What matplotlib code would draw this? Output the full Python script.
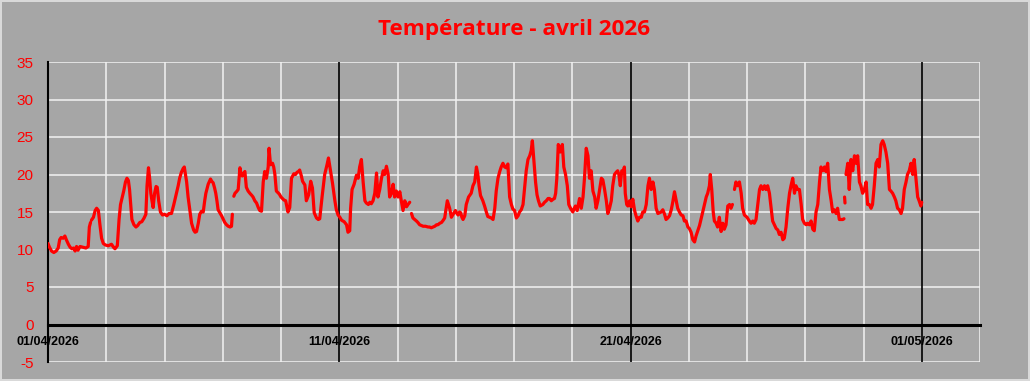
import numpy as np
import matplotlib
matplotlib.use("Agg")
import matplotlib.pyplot as plt
from matplotlib.ticker import MultipleLocator, FixedLocator

title = "Température - avril 2026"
tick_days = [0, 10, 20, 30]
tick_labels = ["01/04/2026", "11/04/2026", "21/04/2026", "01/05/2026"]
y_ticks = list(range(-5, 40, 5))
nan = float("nan")

# (days since 01/04/2026 00:00, temperature °C); nan = missing data
readings = [
    (0.00, 10.8), (0.05, 10.3), (0.12, 9.8), (0.20, 9.6), (0.28, 9.8), (0.35, 10.2),
    (0.40, 11.3), (0.45, 11.6), (0.52, 11.5), (0.58, 11.8), (0.63, 11.3), (0.70, 10.7),
    (0.76, 10.3), (0.82, 10.1), (0.88, 10.2), (0.93, 9.8), (0.98, 10.4), (1.03, 9.9),
    (1.10, 10.4), (1.20, 10.3), (1.30, 10.2), (1.38, 10.4), (1.42, 13.0), (1.46, 13.6),
    (1.47, nan), (1.49, 13.9), (1.56, 14.3), (1.62, 15.2), (1.67, 15.5), (1.73, 15.2),
    (1.78, 13.4), (1.84, 11.5), (1.90, 10.8), (1.97, 10.6), (2.07, 10.5), (2.18, 10.7),
    (2.25, 10.3), (2.30, 10.1), (2.38, 10.5), (2.44, 14.0), (2.49, 16.0), (2.55, 17.0),
    (2.60, 17.8), (2.66, 19.0), (2.71, 19.5), (2.76, 19.2), (2.80, 18.0), (2.84, 16.0),
    (2.88, 14.0), (2.95, 13.3), (3.02, 13.0), (3.08, 13.2), (3.15, 13.6), (3.22, 13.7),
    (3.30, 14.2), (3.36, 14.7), (3.40, 18.5), (3.45, 20.9), (3.49, 19.5), (3.53, 17.5),
    (3.57, 16.5), (3.61, 15.6), (3.66, 17.5), (3.71, 18.4), (3.75, 18.3), (3.80, 16.5),
    (3.86, 15.0), (3.93, 14.6), (4.00, 14.7), (4.08, 14.5), (4.16, 14.8), (4.24, 14.8),
    (4.32, 16.0), (4.41, 17.5), (4.47, 18.5), (4.52, 19.5), (4.58, 20.3), (4.64, 20.8),
    (4.68, 21.0), (4.72, 20.0), (4.76, 19.0), (4.81, 17.0), (4.86, 15.5), (4.93, 13.5),
    (5.00, 12.6), (5.05, 12.3), (5.10, 12.4), (5.16, 13.5), (5.21, 14.7), (5.27, 15.1),
    (5.33, 15.0), (5.38, 16.5), (5.42, 17.5), (5.50, 18.7), (5.58, 19.4), (5.62, 19.1),
    (5.67, 18.9), (5.72, 18.2), (5.76, 17.5), (5.80, 16.5), (5.84, 15.3), (5.90, 14.9),
    (5.96, 14.5), (6.02, 14.0), (6.07, 13.6), (6.13, 13.3), (6.19, 13.1), (6.25, 13.0),
    (6.30, 13.1), (6.33, 14.7), (6.355, nan), (6.38, 17.1), (6.42, 17.5), (6.47, 17.7),
    (6.53, 18.0), (6.56, 19.5), (6.59, 20.9), (6.63, 20.0), (6.67, 19.8), (6.72, 20.2),
    (6.76, 20.4), (6.81, 18.3), (6.87, 17.8), (6.93, 17.5), (7.00, 17.2), (7.04, 17.0),
    (7.10, 16.5), (7.16, 16.2), (7.22, 15.6), (7.27, 15.2), (7.33, 15.1), (7.39, 19.0),
    (7.44, 20.4), (7.50, 19.5), (7.56, 21.0), (7.59, 23.5), (7.64, 21.3), (7.71, 21.5),
    (7.75, 21.0), (7.79, 20.0), (7.84, 17.8), (7.89, 17.6), (7.94, 17.4), (8.00, 17.0),
    (8.05, 16.8), (8.10, 16.6), (8.16, 16.5), (8.24, 15.0), (8.30, 15.6), (8.36, 19.5),
    (8.44, 20.1), (8.50, 20.0), (8.55, 20.3), (8.60, 20.4), (8.64, 20.6), (8.70, 19.8),
    (8.74, 19.1), (8.82, 18.6), (8.87, 16.5), (8.95, 17.3), (9.02, 19.1), (9.08, 18.2),
    (9.14, 14.9), (9.22, 14.2), (9.28, 14.0), (9.33, 14.1), (9.41, 17.0), (9.50, 20.0),
    (9.58, 21.3), (9.63, 22.2), (9.70, 20.5), (9.77, 18.8), (9.85, 16.5), (9.90, 15.3),
    (9.96, 14.6), (10.02, 14.3), (10.08, 13.9), (10.17, 13.7), (10.25, 13.3), (10.30, 12.3),
    (10.36, 12.5), (10.39, 15.5), (10.44, 18.0), (10.51, 18.7), (10.59, 19.9), (10.65, 19.5),
    (10.70, 21.0), (10.76, 22.0), (10.82, 19.0), (10.88, 16.5), (10.93, 16.2), (11.00, 16.0),
    (11.05, 16.3), (11.10, 16.1), (11.16, 16.5), (11.22, 17.5), (11.28, 20.2), (11.33, 17.0),
    (11.39, 18.0), (11.45, 19.5), (11.51, 20.5), (11.56, 20.0), (11.62, 21.1), (11.68, 20.0),
    (11.73, 17.0), (11.79, 17.5), (11.85, 18.7), (11.90, 17.0), (11.96, 17.8), (12.02, 17.0),
    (12.08, 17.7), (12.13, 16.5), (12.19, 15.2), (12.25, 16.5), (12.31, 15.7), (12.36, 16.0),
    (12.42, 16.3), (12.45, nan), (12.48, 14.8), (12.53, 14.2), (12.59, 14.0), (12.65, 13.8),
    (12.70, 13.6), (12.76, 13.3), (12.82, 13.2), (12.88, 13.1), (12.96, 13.1), (13.05, 13.0),
    (13.10, 13.0), (13.16, 12.9), (13.22, 13.0), (13.28, 13.1), (13.34, 13.3), (13.39, 13.3),
    (13.45, 13.5), (13.51, 13.6), (13.57, 13.9), (13.62, 14.2), (13.67, 15.5), (13.71, 16.5),
    (13.75, 16.0), (13.79, 15.5), (13.85, 14.3), (13.91, 14.7), (13.99, 15.2), (14.04, 14.8),
    (14.08, 14.6), (14.13, 15.0), (14.17, 14.9), (14.21, 14.3), (14.25, 14.0), (14.31, 14.5),
    (14.36, 16.0), (14.44, 17.0), (14.53, 17.5), (14.59, 18.5), (14.65, 19.0), (14.68, 20.0),
    (14.71, 21.0), (14.76, 20.0), (14.80, 18.5), (14.85, 17.2), (14.93, 16.5), (14.99, 15.8),
    (15.05, 15.0), (15.10, 14.4), (15.16, 14.3), (15.22, 14.2), (15.28, 14.0), (15.34, 15.5),
    (15.39, 17.8), (15.45, 19.5), (15.51, 20.4), (15.56, 21.0), (15.62, 21.5), (15.68, 21.0),
    (15.73, 20.9), (15.79, 21.4), (15.85, 17.0), (15.91, 16.0), (15.96, 15.4), (16.02, 15.2),
    (16.08, 14.2), (16.14, 14.5), (16.19, 15.0), (16.25, 15.3), (16.31, 16.0), (16.36, 18.0),
    (16.42, 20.5), (16.48, 22.0), (16.54, 22.5), (16.59, 23.2), (16.63, 24.5), (16.68, 22.0),
    (16.74, 19.0), (16.79, 17.3), (16.84, 16.5), (16.90, 15.8), (16.99, 16.0), (17.05, 16.3),
    (17.11, 16.5), (17.17, 16.8), (17.22, 16.8), (17.28, 16.5), (17.34, 16.7), (17.39, 16.8),
    (17.43, 17.5), (17.47, 19.5), (17.52, 24.0), (17.56, 23.5), (17.59, 23.0), (17.63, 23.5),
    (17.66, 24.0), (17.71, 21.0), (17.77, 20.0), (17.83, 18.5), (17.88, 16.0), (17.94, 15.5),
    (18.02, 15.0), (18.07, 15.5), (18.11, 15.8), (18.17, 15.2), (18.25, 16.8), (18.31, 15.5),
    (18.37, 17.0), (18.42, 19.5), (18.48, 23.5), (18.54, 22.5), (18.59, 19.5), (18.65, 20.5),
    (18.71, 17.8), (18.77, 17.0), (18.82, 15.5), (18.88, 16.5), (18.94, 18.0), (19.00, 19.5),
    (19.05, 19.3), (19.11, 18.0), (19.17, 16.5), (19.22, 14.8), (19.28, 15.5), (19.34, 16.5),
    (19.39, 18.5), (19.45, 20.0), (19.51, 20.3), (19.56, 20.5), (19.60, 20.0), (19.65, 18.5),
    (19.70, 20.5), (19.76, 20.5), (19.79, 21.0), (19.82, 17.5), (19.87, 16.0), (19.91, 15.8),
    (19.97, 16.5), (20.02, 15.7), (20.08, 16.7), (20.14, 15.2), (20.19, 14.5), (20.25, 13.8),
    (20.31, 14.3), (20.37, 14.3), (20.42, 15.0), (20.48, 15.0), (20.54, 16.0), (20.60, 18.5),
    (20.65, 19.5), (20.71, 18.0), (20.77, 19.0), (20.82, 18.0), (20.88, 15.5), (20.94, 14.8),
    (21.00, 14.9), (21.05, 15.0), (21.11, 15.3), (21.17, 14.7), (21.22, 14.0), (21.28, 14.2),
    (21.34, 14.5), (21.40, 15.3), (21.45, 16.3), (21.51, 17.7), (21.57, 16.5), (21.62, 15.5),
    (21.68, 15.0), (21.74, 14.6), (21.80, 14.5), (21.85, 13.8), (21.91, 13.8), (21.97, 13.0),
    (22.02, 12.8), (22.08, 12.3), (22.14, 11.3), (22.20, 11.0), (22.25, 11.8), (22.31, 12.5),
    (22.37, 13.2), (22.42, 14.0), (22.48, 15.0), (22.54, 16.0), (22.60, 17.0), (22.65, 17.5),
    (22.71, 18.5), (22.74, 20.0), (22.79, 18.0), (22.84, 15.0), (22.88, 13.8), (22.94, 13.5),
    (22.99, 13.0), (23.05, 14.3), (23.11, 12.4), (23.17, 13.5), (23.22, 12.7), (23.28, 13.3),
    (23.34, 15.8), (23.40, 16.0), (23.45, 15.5), (23.50, 16.0), (23.53, nan), (23.57, 18.0),
    (23.62, 19.0), (23.68, 18.5), (23.74, 19.0), (23.80, 17.5), (23.85, 15.5), (23.91, 14.6),
    (24.00, 14.3), (24.08, 13.8), (24.14, 13.5), (24.20, 13.8), (24.25, 13.5), (24.31, 14.0),
    (24.37, 16.0), (24.43, 18.0), (24.48, 18.5), (24.54, 18.0), (24.60, 18.5), (24.65, 18.0),
    (24.71, 18.5), (24.77, 17.5), (24.83, 15.5), (24.88, 13.8), (24.94, 13.3), (25.00, 12.8),
    (25.06, 12.6), (25.11, 12.0), (25.17, 12.3), (25.23, 11.3), (25.28, 11.5), (25.34, 13.0),
    (25.40, 15.5), (25.46, 17.5), (25.51, 18.5), (25.57, 19.5), (25.63, 17.5), (25.68, 18.5),
    (25.74, 18.0), (25.80, 18.0), (25.86, 16.0), (25.91, 14.0), (25.97, 13.5), (26.03, 13.3),
    (26.08, 13.5), (26.14, 13.3), (26.20, 13.8), (26.26, 12.7), (26.31, 12.5), (26.37, 15.0),
    (26.43, 16.0), (26.49, 19.0), (26.54, 21.0), (26.60, 20.5), (26.66, 21.0), (26.71, 20.4),
    (26.77, 21.5), (26.83, 18.0), (26.89, 16.5), (26.94, 15.0), (27.00, 15.3), (27.06, 14.8),
    (27.11, 15.5), (27.17, 14.0), (27.23, 14.0), (27.29, 14.0), (27.33, 14.1), (27.34, nan),
    (27.35, 17.0), (27.365, 16.2), (27.38, nan), (27.40, 20.0), (27.46, 21.5), (27.51, 18.0),
    (27.57, 22.0), (27.63, 20.5), (27.69, 22.5), (27.74, 21.5), (27.80, 22.5), (27.86, 19.0),
    (27.91, 18.5), (27.97, 17.5), (28.03, 18.0), (28.09, 19.0), (28.14, 16.0), (28.20, 16.0),
    (28.26, 15.5), (28.31, 16.0), (28.37, 18.5), (28.43, 21.5), (28.49, 22.0), (28.54, 21.0),
    (28.60, 24.0), (28.66, 24.5), (28.71, 24.0), (28.77, 23.0), (28.83, 21.5), (28.89, 18.0),
    (28.94, 17.8), (29.00, 17.5), (29.06, 17.0), (29.11, 16.5), (29.17, 15.5), (29.23, 15.3),
    (29.29, 14.8), (29.34, 15.5), (29.40, 18.0), (29.46, 19.0), (29.51, 20.0), (29.57, 20.5),
    (29.63, 21.5), (29.69, 20.0), (29.74, 22.0), (29.80, 19.5), (29.86, 17.0), (29.91, 16.5),
    (29.97, 15.8), (30.00, 16.3),
]
days = [r[0] for r in readings]
temps = [r[1] for r in readings]

BG = "#A6A6A6"
fig = plt.figure(figsize=(10.30, 3.81), dpi=100, facecolor=BG)
fig.patch.set_edgecolor("#D9D9D9")
fig.patch.set_linewidth(1.5)
ax = fig.add_axes([48 / 1030, 1 - 362 / 381, (980 - 48) / 1030, (362 - 62) / 381])
ax.set_facecolor(BG)

ax.set_xlim(0, 32)
ax.set_ylim(-5, 35)

# grid
ax.yaxis.set_major_locator(FixedLocator(y_ticks))
ax.xaxis.set_major_locator(FixedLocator(tick_days))
ax.xaxis.set_minor_locator(MultipleLocator(2))
for yv in y_ticks:
    ax.axhline(yv, color="#F2F2F2", lw=1.1, zorder=1)
for xv in np.arange(0, 33, 2):
    if xv not in tick_days:
        ax.axvline(xv, color="#F2F2F2", lw=1.1, zorder=1)
for xv in tick_days[1:]:
    ax.axvline(xv, color="black", lw=1.2, zorder=2)

ax.plot(np.array(days, dtype=float), np.array(temps, dtype=float), color="#FF0000", lw=2.3,
        zorder=4, solid_joinstyle="round", solid_capstyle="round")

for s in ["top", "right"]:
    ax.spines[s].set_visible(False)
ax.spines["left"].set_color("black")
ax.spines["left"].set_linewidth(1.5)
ax.spines["bottom"].set_position(("data", 0))
ax.spines["bottom"].set_color("black")
ax.spines["bottom"].set_linewidth(2.2)
ax.spines["bottom"].set_zorder(3)

ax.set_yticklabels([str(v) for v in y_ticks], color="#FF0000", fontsize=11,
                   family="Liberation Sans")
ax.tick_params(axis="y", length=0, pad=10.5)
ax.set_xticklabels(tick_labels, fontsize=9, fontweight="bold", family="Liberation Sans",
                   color="black")
ax.tick_params(axis="x", which="both", length=0, pad=8.5)

fig.text(0.499, 1 - 29 / 381, title, ha="center", va="center", color="#FF0000",
         fontsize=16.2, fontweight="bold", family="Open Sans")

fig.savefig("out.png", dpi=100, facecolor=BG, edgecolor=fig.patch.get_edgecolor())
